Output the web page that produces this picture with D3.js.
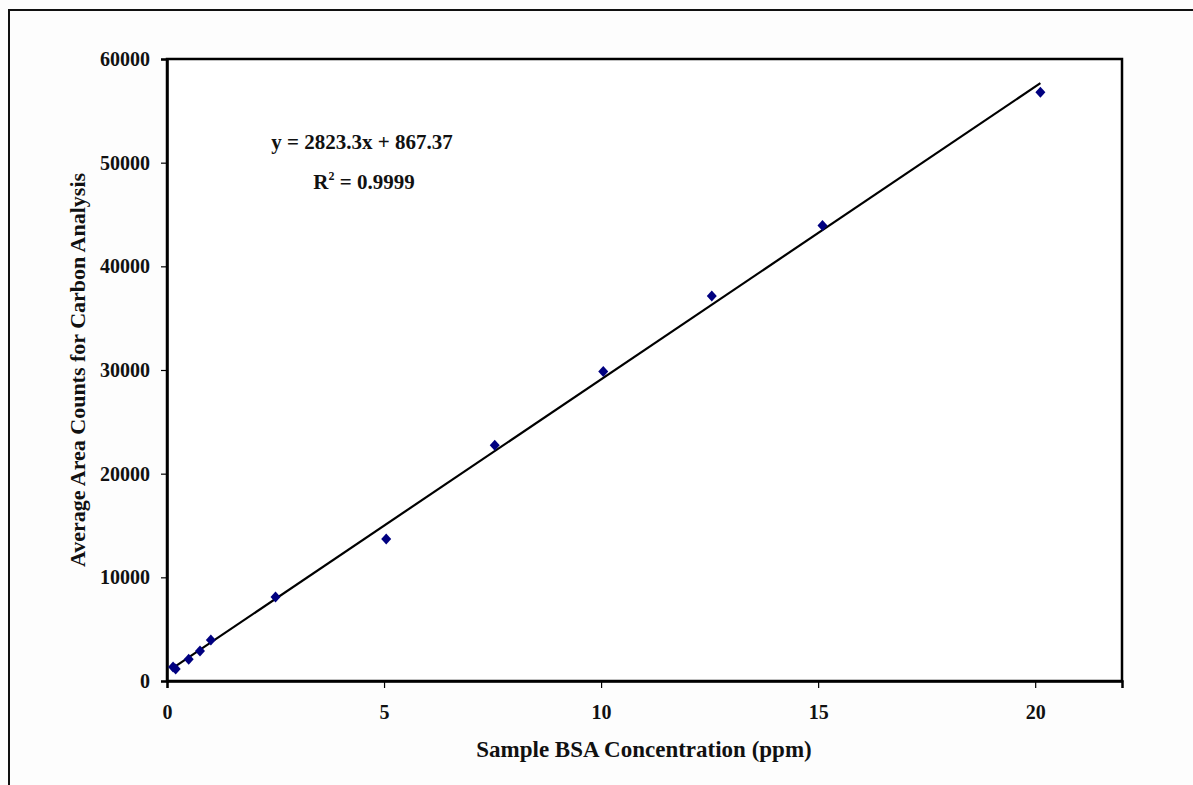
<!DOCTYPE html>
<html>
<head>
<meta charset="utf-8">
<script src="https://cdn.jsdelivr.net/npm/d3@7"></script>
<style>
  body { margin: 0; background: #fff; }
  text { font-family: "Liberation Serif", "Times New Roman", serif; font-weight: bold; fill: #111; }
</style>
</head>
<body>
<div id="chart"></div>
<script>
// data
var concentration = [0.14, 0.2, 0.5, 0.76, 1.01, 2.5, 5.05, 7.55, 10.05, 12.55, 15.1, 20.12];
var areaCounts = [1350, 1150, 2100, 2900, 3950, 8100, 13700, 22750, 29850, 37150, 43950, 56800];
var xTicks = [0, 5, 10, 15, 20];
var yTicks = [0, 10000, 20000, 30000, 40000, 50000, 60000];
var slope = 2823.3, intercept = 867.37;
var equationLabel = "y = 2823.3x + 867.37";
var r2Value = "0.9999";

var svgWidth = 1193;
var svgHeight = 785;

var margin = { top: 59, right: 71, bottom: 104, left: 167 };
var width = svgWidth - margin.left - margin.right;
var height = svgHeight - margin.top - margin.bottom;

var svg = d3.select("#chart")
  .append("svg")
  .attr("width", svgWidth)
  .attr("height", svgHeight);

svg.append("rect")
  .attr("width", "100%")
  .attr("height", "100%")
  .attr("fill", "#fdfdfd");

// outer chart frame, runs off the right and bottom edge
svg.append("rect")
  .attr("x", 9)
  .attr("y", 10)
  .attr("width", 1300)
  .attr("height", 900)
  .attr("fill", "none")
  .attr("stroke", "#111")
  .attr("stroke-width", 2);

var chartGroup = svg.append("g")
  .attr("transform", `translate(${margin.left}, ${margin.top})`);

var xScale = d3.scaleLinear().domain([0, 22]).range([0, width]);
var yScale = d3.scaleLinear().domain([0, 60000]).range([height, 0]);

// plot area border
chartGroup.append("rect")
  .attr("width", width)
  .attr("height", height)
  .attr("fill", "#fff")
  .attr("stroke", "#000")
  .attr("stroke-width", 2.5);

var xAxis = d3.axisBottom(xScale).tickValues(xTicks).tickSize(7).tickPadding(17).tickFormat(d3.format("d"));
var yAxis = d3.axisLeft(yScale).tickValues(yTicks).tickSize(6).tickPadding(11).tickFormat(d3.format("d"));

var gx = chartGroup.append("g")
  .attr("transform", `translate(0, ${height})`)
  .call(xAxis);
var gy = chartGroup.append("g").call(yAxis);

[gx, gy].forEach(function(g) {
  g.select(".domain").attr("stroke", "#000").attr("stroke-width", 2.5);
  g.selectAll(".tick line").attr("stroke", "#000").attr("stroke-width", 1.2);
  g.selectAll(".tick text")
    .style("font-family", "'Liberation Serif', serif")
    .style("font-weight", "bold")
    .style("font-size", "20px")
    .attr("fill", "#111");
});

// trend line over the data range
var xExtent = d3.extent(concentration);
var line = d3.line()
  .x(d => xScale(d))
  .y(d => yScale(slope * d + intercept));

chartGroup.append("path")
  .datum(xExtent)
  .attr("d", line)
  .attr("fill", "none")
  .attr("stroke", "#000")
  .attr("stroke-width", 2.2);

// diamond markers
var points = concentration.map((c, i) => ({ x: c, y: areaCounts[i] }));
chartGroup.selectAll(".pt")
  .data(points)
  .enter()
  .append("path")
  .attr("class", "pt")
  .attr("transform", d => `translate(${xScale(d.x)}, ${yScale(d.y)})`)
  .attr("d", "M0,-5.5L5,0L0,5.5L-5,0Z")
  .attr("fill", "#000080");

// equation
chartGroup.append("text")
  .attr("x", 195)
  .attr("y", 90)
  .attr("text-anchor", "middle")
  .style("font-size", "21px")
  .text(equationLabel);

var r2 = chartGroup.append("text")
  .attr("x", 197)
  .attr("y", 130)
  .attr("text-anchor", "middle")
  .style("font-size", "21px");
r2.append("tspan").text("R");
r2.append("tspan").attr("dy", -9).style("font-size", "12px").text("2");
r2.append("tspan").attr("dy", 9).text(" = " + r2Value);

// axis titles
svg.append("text")
  .attr("x", 644)
  .attr("y", 757)
  .attr("text-anchor", "middle")
  .style("font-size", "23px")
  .text("Sample BSA Concentration (ppm)");

svg.append("text")
  .attr("transform", "rotate(-90)")
  .attr("x", -370)
  .attr("y", 85)
  .attr("text-anchor", "middle")
  .style("font-size", "22px")
  .text("Average Area Counts for Carbon Analysis");
</script>
</body>
</html>
